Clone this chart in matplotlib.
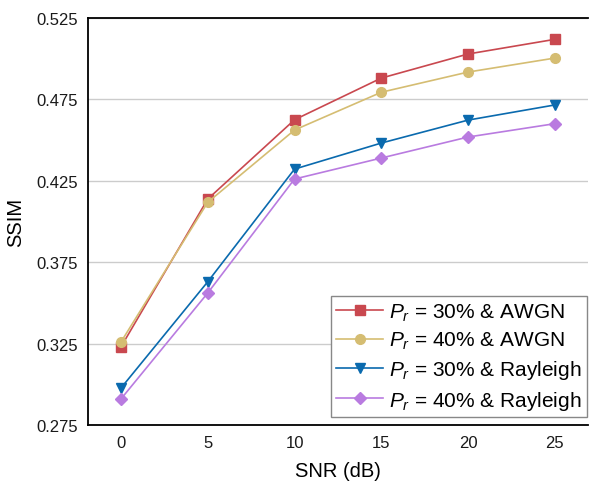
import matplotlib
matplotlib.use("Agg")
import matplotlib.pyplot as plt

plt.rcParams['font.family'] = ['Liberation Sans', 'DejaVu Sans']
plt.rcParams['mathtext.fontset'] = 'custom'
plt.rcParams['mathtext.rm'] = 'Liberation Sans'
plt.rcParams['mathtext.it'] = 'Liberation Sans:italic'

snr = [0, 5, 10, 15, 20, 25]
awgn_30 = [0.323, 0.4138, 0.4625, 0.4881, 0.5029, 0.5119]
awgn_40 = [0.326, 0.4118, 0.4562, 0.4794, 0.4918, 0.5004]
rayleigh_30 = [0.2977, 0.363, 0.4322, 0.4482, 0.4623, 0.4716]
rayleigh_40 = [0.291, 0.3561, 0.4261, 0.439, 0.4519, 0.4601]
labels = [r'$P_r$ = 30% & AWGN', r'$P_r$ = 40% & AWGN',
          r'$P_r$ = 30% & Rayleigh', r'$P_r$ = 40% & Rayleigh']
yticks = [0.275, 0.325, 0.375, 0.425, 0.475, 0.525]


def create_visualization():
    fig = plt.figure(figsize=(5.89, 4.85), dpi=100)
    ax = fig.add_axes([0.1494, 0.1216, 0.8486, 0.8392])

    series = [awgn_30, awgn_40, rayleigh_30, rayleigh_40]
    colors = ['#C9484F', '#D5BD72', '#0A6AAE', '#B97BE0']
    markers = ['s', 'o', 'v', 'D']
    sizes = [6.5, 7, 7.5, 6]
    for vals, lab, c, m, s in zip(series, labels, colors, markers, sizes):
        ax.plot(snr, vals, color=c, marker=m, markersize=s, linewidth=1.2, label=lab)

    ax.set_xlim(-1.9, 26.9)
    ax.set_ylim(0.275, 0.525)
    ax.set_xticks(snr)
    ax.set_yticks(yticks)
    ax.set_yticklabels(['%.3f' % v for v in yticks])
    ax.tick_params(length=0, labelsize=12, pad=7, colors='#1a1a1a')
    ax.yaxis.grid(True, color='#cccccc', linewidth=1)
    ax.set_axisbelow(True)
    ax.spines['right'].set_visible(False)
    for sp in ['left', 'bottom', 'top']:
        ax.spines[sp].set_linewidth(1.3)

    ax.set_xlabel('SNR (dB)', fontsize=14.5, labelpad=8)
    ax.set_ylabel('SSIM', fontsize=14.5, labelpad=8)

    leg = ax.legend(loc='lower right', bbox_to_anchor=(0.998, 0.02), fontsize=15,
                    fancybox=False, framealpha=1, edgecolor='#888888',
                    handlelength=2.25, borderpad=0.25, labelspacing=0.35,
                    handletextpad=0.3, borderaxespad=0)
    leg.get_frame().set_linewidth(1)

    fig.savefig('out.png', dpi=100)
    plt.close(fig)


def main():
    create_visualization()


if __name__ == "__main__":
    main()
